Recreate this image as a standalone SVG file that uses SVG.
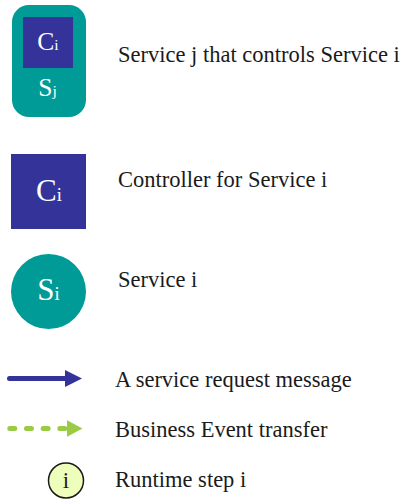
<svg xmlns="http://www.w3.org/2000/svg" width="402" height="499" viewBox="0 0 402 499">
  <style>
    .label { font-family: "Liberation Serif", "Times New Roman", serif; font-size: 22.5px; fill: #1a1a1a; }
    .sym { font-family: "Liberation Serif", "Times New Roman", serif; fill: #ffffff; text-anchor: middle; }
    .teal { fill: #009b96; }
    .purple { fill: #333399; }
  </style>
  <defs>
    <marker id="headBlue" markerUnits="userSpaceOnUse" viewBox="0 0 17 17" markerWidth="17" markerHeight="17" refX="1" refY="8.5" orient="auto">
      <path d="M0,0 L17,8.5 L0,17 Z" fill="#333399"/>
    </marker>
    <marker id="headGreen" markerUnits="userSpaceOnUse" viewBox="0 0 16 17" markerWidth="16" markerHeight="17" refX="0.5" refY="8.5" orient="auto">
      <path d="M0,0 L16,8.5 L0,17 Z" fill="#99cc44"/>
    </marker>
  </defs>

  <!-- service j hosting controller i -->
  <g id="service-with-controller">
    <rect class="teal" x="12" y="5" width="74" height="112" rx="17" ry="17"/>
    <rect class="purple" x="23" y="17" width="50" height="51"/>
    <text class="sym" x="48" y="49.5" font-size="25.5">C<tspan font-size="15.5">i</tspan></text>
    <text class="sym" x="47.5" y="96" font-size="25.5">S<tspan font-size="15.5">j</tspan></text>
  </g>
  <text class="label" x="118" y="62">Service j that controls Service i</text>

  <!-- controller -->
  <g id="controller">
    <rect class="purple" x="11" y="154" width="75" height="75"/>
    <text class="sym" x="49" y="201" font-size="31">C<tspan font-size="18.5">i</tspan></text>
  </g>
  <text class="label" x="118" y="187">Controller for Service i</text>

  <!-- service -->
  <g id="service">
    <circle class="teal" cx="48.5" cy="291.5" r="37.5"/>
    <text class="sym" x="48.5" y="300" font-size="31">S<tspan font-size="18.5">i</tspan></text>
  </g>
  <text class="label" x="118" y="287">Service i</text>

  <!-- connector styles -->
  <g id="connectors">
    <line x1="9.5" y1="378.5" x2="66" y2="378.5" stroke="#333399" stroke-width="5" stroke-linecap="round" marker-end="url(#headBlue)"/>
    <line x1="9.8" y1="428.5" x2="67" y2="428.5" stroke="#99cc44" stroke-width="5" stroke-linecap="round" stroke-dasharray="5 11.67" marker-end="url(#headGreen)"/>
  </g>
  <text class="label" x="115" y="387">A service request message</text>
  <text class="label" x="115" y="437">Business Event transfer</text>

  <!-- runtime step marker -->
  <g id="runtime-step">
    <circle cx="66" cy="480.5" r="17.5" fill="#eeffbb" stroke="#1a1a1a" stroke-width="1.5"/>
    <text x="66" y="487.5" font-family="Liberation Serif, Times New Roman, serif" font-size="23" fill="#1a1a1a" text-anchor="middle">i</text>
  </g>
  <text class="label" x="115" y="487">Runtime step i</text>
</svg>
